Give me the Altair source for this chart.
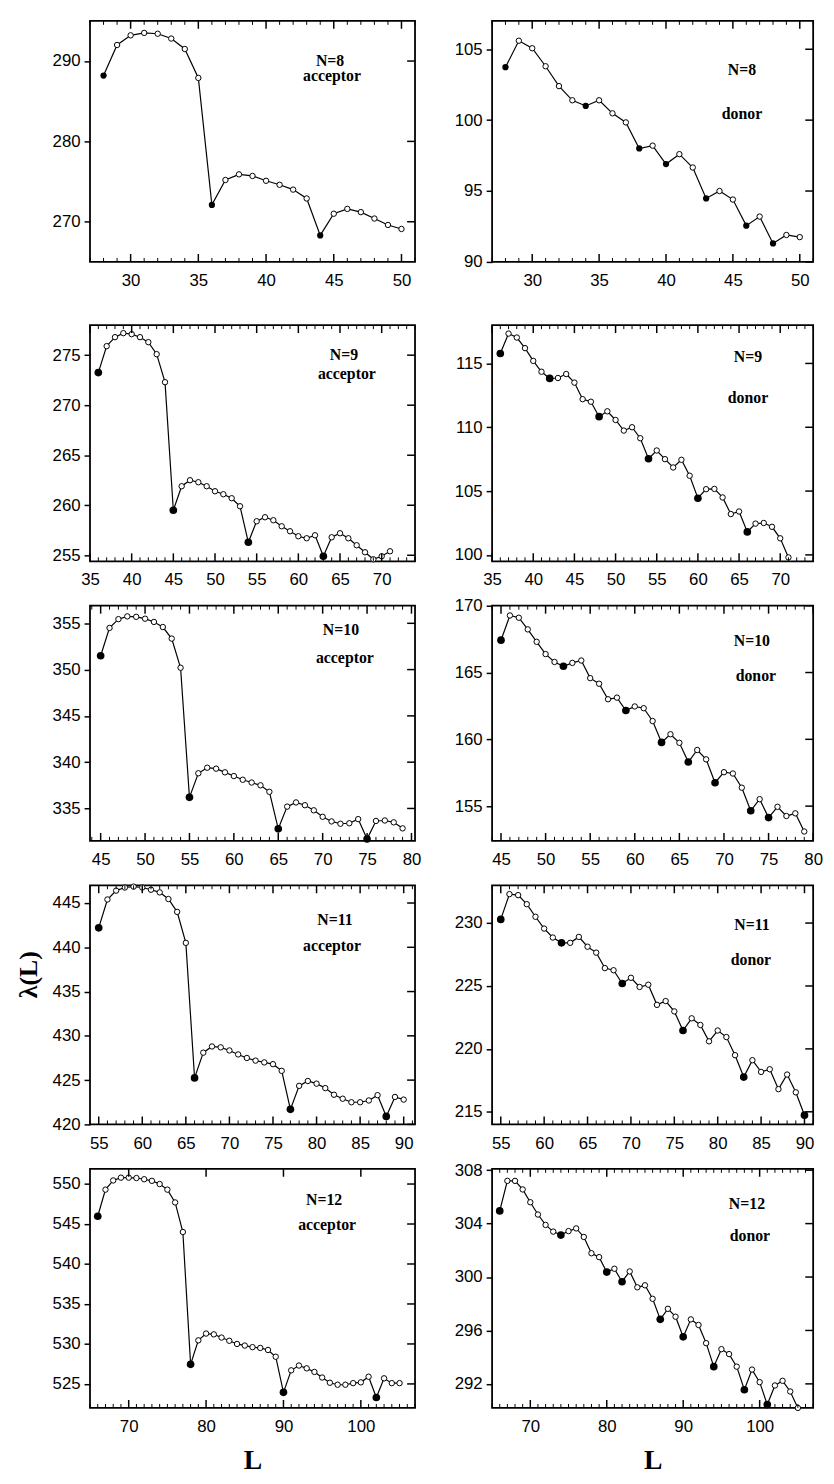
import math
import altair as alt
import pandas as pd

# ---------------- data ----------------
L8 = list(range(28, 51))
ACC8 = [288.2, 292.0, 293.2, 293.5, 293.4, 292.8, 291.5, 287.9, 272.1, 275.2, 275.9, 275.7,
        275.1, 274.6, 274.0, 272.9, 268.3, 271.0, 271.6, 271.2, 270.4, 269.6, 269.1]
ACC8_MIN = [28, 36, 44]
DON8 = [103.73, 105.6, 105.07, 103.8, 102.4, 101.4, 101.0, 101.4, 100.48, 99.84, 98.0, 98.2,
        96.9, 97.6, 96.66, 94.48, 95.0, 94.4, 92.56, 93.2, 91.3, 91.9, 91.75]
DON8_MIN = [28, 34, 38, 40, 43, 46, 48]

L9 = list(range(36, 72))
ACC9 = [273.26, 275.9, 276.8, 277.2, 277.1, 276.8, 276.3, 275.1, 272.3, 259.5, 261.9, 262.5,
        262.3, 261.9, 261.4, 261.1, 260.7, 259.9, 256.3, 258.4, 258.8, 258.5, 257.9, 257.4,
        256.9, 256.7, 257.0, 254.9, 256.8, 257.2, 256.7, 256.0, 255.3, 254.6, 254.9, 255.4]
ACC9_MIN = [36, 45, 54, 63]
DON9 = [115.78, 117.34, 117.03, 116.2, 115.2, 114.35, 113.83, 113.86, 114.17, 113.5, 112.2, 112.0,
        110.83, 111.25, 110.57, 109.74, 110.0, 109.14, 107.53, 108.18, 107.5, 106.85, 107.45, 106.2,
        104.44, 105.15, 105.17, 104.5, 103.2, 103.4, 101.8, 102.45, 102.5, 102.2, 101.3, 99.8]
DON9_MIN = [36, 42, 48, 54, 60, 66]

L10 = list(range(45, 80))
ACC10 = [351.5, 354.5, 355.45, 355.75, 355.7, 355.5, 355.15, 354.6, 353.35, 350.2, 336.2,
         338.8, 339.4, 339.3, 338.9, 338.5, 338.1, 337.8, 337.5, 336.8, 332.8,
         335.2, 335.65, 335.35, 334.8, 334.1, 333.6, 333.35, 333.4, 333.85, 331.7,
         333.65, 333.7, 333.5, 332.85]
ACC10_MIN = [45, 55, 65, 75]
DON10 = [167.42, 169.27, 169.1, 168.23, 167.3, 166.38, 165.79, 165.47, 165.72, 165.9, 164.58,
         164.16, 163.0, 163.12, 162.16, 162.46, 162.33, 161.37, 159.77, 160.38, 159.74, 158.3,
         159.2, 158.5, 156.75, 157.54, 157.44, 156.38, 154.65, 155.52, 154.14, 154.95, 154.26,
         154.46, 153.1]
DON10_MIN = [45, 52, 59, 63, 66, 69, 73, 75]

L11 = list(range(55, 91))
ACC11 = [442.2, 445.4, 446.4, 446.75, 446.85, 446.75, 446.5, 446.2, 445.45, 444.0, 440.5,
         425.25, 428.1, 428.8, 428.7, 428.35, 427.9, 427.5, 427.2, 427.0, 426.8, 426.05,
         421.7, 424.35, 424.9, 424.6, 424.1, 423.35, 422.9, 422.5, 422.5, 422.7, 423.3,
         420.9, 423.1, 422.8]
ACC11_MIN = [55, 66, 77, 88]
DON11 = [230.29, 232.3, 232.22, 231.5, 230.5, 229.56, 228.85, 228.43, 228.43, 228.9, 228.12,
         227.65, 226.42, 226.25, 225.2, 225.65, 224.92, 225.1, 223.5, 223.8, 222.98, 221.46,
         222.43, 221.9, 220.6, 221.46, 220.94, 219.5, 217.76, 219.1, 218.17, 218.38, 216.8,
         217.96, 216.55, 214.73]
DON11_MIN = [55, 62, 69, 76, 83, 90]

L12 = list(range(66, 106))
ACC12 = [545.97, 549.3, 550.45, 550.8, 550.8, 550.75, 550.6, 550.4, 550.0, 549.3, 547.7, 544.0,
         527.45, 530.45, 531.3, 531.2, 530.8, 530.4, 530.0, 529.8, 529.6, 529.5, 529.25, 528.4,
         523.95, 526.7, 527.3, 526.95, 526.5, 525.8, 525.15, 524.9, 524.9, 525.1, 525.2, 525.9,
         523.3, 525.7, 525.1, 525.1]
ACC12_MIN = [66, 78, 90, 102]
DON12 = [304.95, 307.2, 307.2, 306.56, 305.6, 304.68, 303.9, 303.4, 303.14, 303.44, 303.64,
         303.0, 301.78, 301.49, 300.37, 300.62, 299.65, 300.42, 299.23, 299.38, 298.37, 296.83,
         297.62, 297.03, 295.52, 296.83, 296.41, 295.05, 293.29, 294.6, 294.23, 293.29, 291.56,
         293.07, 292.13, 290.45, 291.88, 292.23, 291.43, 290.2]
DON12_MIN = [66, 74, 80, 82, 87, 90, 94, 98, 101]

# tick labels
XLAB = [[30, 35, 40, 45, 50], [35, 40, 45, 50, 55, 60, 65, 70], [45, 50, 55, 60, 65, 70, 75, 80],
        [55, 60, 65, 70, 75, 80, 85, 90], [70, 80, 90, 100]]
YLAB_ACC = [[270, 280, 290], [255, 260, 265, 270, 275], [335, 340, 345, 350, 355],
            [420, 425, 430, 435, 440, 445], [525, 530, 535, 540, 545, 550]]
YLAB_DON = [[90, 95, 100, 105], [100, 105, 110, 115], [155, 160, 165, 170],
            [215, 220, 225, 230], [292, 296, 300, 304, 308]]
N_TEXT = ["N=8", "N=9", "N=10", "N=11", "N=12"]

# ---------------- layout / style ----------------
SANS = "Liberation Sans"
SERIF = "Liberation Serif"
W_L, W_R = 329, 325
HEIGHTS = [244, 239, 238, 242, 242]
XDOM_L = [[27, 51], [35, 74], [43.8, 80.4], [54, 91.3], [65, 107]]
XDOM_R = [[27, 51], [35, 74], [44, 80], [54, 91], [65, 107]]
YDOM_L = [[265, 295], [254.4, 278], [331.5, 356.9], [420, 447], [522, 551.9]]
YDOM_R = [[90, 107], [99.5, 118], [152.4, 170], [214, 233], [290.2, 308.1]]
XMAJOR = [5, 5, 5, 5, 10]
TXT_L = [((243, 41), (245, 56)), ((257, 30), (260, 50)), ((254, 25), (258, 53)),
         ((248, 35), (245, 61)), ((237, 32), (240, 57))]
TXT_R = [((253, 50), (253, 94)), ((259, 32), (259, 74)), ((263, 36), (267, 71)),
         ((263, 40), (262, 76)), ((258, 36), (261, 68))]
YTITLE_X, YTITLE_Y = -62, 90


def panel(Ls, vals, mins, xdom, ydom, xlab, ylab, xmajor, w, h, ntext, kind, tpos,
          xtitle=False, ytitle=None, fill_size=55, top_minor=True):
    data = pd.DataFrame({"L": Ls, "v": vals, "m": [l in mins for l in Ls]})
    xs = alt.Scale(domain=xdom, nice=False, zero=False)
    ys = alt.Scale(domain=ydom, nice=False, zero=False)
    xkw = dict(values=xlab, ticks=False, tickSize=0, domain=False, grid=False,
               labelFont=SANS, labelFontSize=17, labelPadding=11, labelColor="black",
               labelFlush=False)
    if xtitle:
        xkw.update(titleFont=SERIF, titleFontSize=28, titleFontWeight="bold",
                   titlePadding=12, titleColor="black")
    ykw = dict(values=ylab, ticks=True, tickSize=6, tickWidth=1.5, tickColor="black",
               domain=False, grid=False, labelFont=SANS, labelFontSize=17, labelPadding=4,
               labelColor="black", labelFlush=False)
    if ytitle:
        ykw.update(titleFont=SERIF, titleFontSize=26, titleFontWeight="bold",
                   titleColor=ytitle, titleAngle=270, titleAlign="center",
                   titleBaseline="middle", titleX=YTITLE_X, titleY=YTITLE_Y)
    x_enc = alt.X("L:Q", scale=xs, axis=alt.Axis(**xkw), title="L" if xtitle else None)
    y_enc = alt.Y("v:Q", scale=ys, axis=alt.Axis(**ykw), title="λ(L)" if ytitle else None)

    base = alt.Chart(data)
    line = base.mark_line(color="black", strokeWidth=1.2).encode(x=x_enc, y=y_enc)
    opn = base.transform_filter("!datum.m").mark_circle(
        fill="white", stroke="black", strokeWidth=1, size=30, opacity=1).encode(x=x_enc, y=y_enc)
    fil = base.transform_filter("datum.m").mark_circle(
        color="black", size=fill_size, opacity=1).encode(x=x_enc, y=y_enc)

    lo, hi = math.ceil(xdom[0]), math.floor(xdom[1])
    minor = pd.DataFrame({"L": [t for t in range(lo, hi + 1) if t % xmajor != 0]})
    major = pd.DataFrame({"L": [t for t in range(lo, hi + 1) if t % xmajor == 0]})
    layers = [line, opn, fil]
    layers.append(alt.Chart(minor).mark_rule(color="black", strokeWidth=1).encode(
        x=x_enc, y=alt.value(h), y2=alt.value(h - 4)))
    layers.append(alt.Chart(major).mark_rule(color="black", strokeWidth=1.5).encode(
        x=x_enc, y=alt.value(h), y2=alt.value(h - 8)))
    if top_minor:
        layers.append(alt.Chart(minor).mark_rule(color="black", strokeWidth=1).encode(
            x=x_enc, y=alt.value(0), y2=alt.value(4)))
    layers.append(alt.Chart(major).mark_rule(color="black", strokeWidth=1.5).encode(
        x=x_enc, y=alt.value(0), y2=alt.value(8)))
    ytk = pd.DataFrame({"v": ylab})
    layers.append(alt.Chart(ytk).mark_rule(color="black", strokeWidth=1.5).encode(
        y=y_enc, x=alt.value(w), x2=alt.value(w - 8)))

    for i, s in enumerate([ntext, kind]):
        layers.append(alt.Chart(pd.DataFrame({"t": [s]})).mark_text(
            font=SERIF, fontSize=16, fontWeight="bold", color="black", align="center",
            baseline="middle").encode(x=alt.value(tpos[i][0]), y=alt.value(tpos[i][1]), text="t:N"))
    return alt.layer(*layers).properties(width=w, height=h)


rows = [
    (L8, ACC8, ACC8_MIN, DON8, DON8_MIN),
    (L9, ACC9, ACC9_MIN, DON9, DON9_MIN),
    (L10, ACC10, ACC10_MIN, DON10, DON10_MIN),
    (L11, ACC11, ACC11_MIN, DON11, DON11_MIN),
    (L12, ACC12, ACC12_MIN, DON12, DON12_MIN),
]

panels = []
for i, (Ls, acc, accm, don, donm) in enumerate(rows):
    last = i == 4
    # row 1 carries an invisible copy of the y title so both blocks share the same left bound
    yt = "black" if i == 3 else ("white" if i == 0 else None)
    panels.append(panel(Ls, acc, accm, XDOM_L[i], YDOM_L[i], XLAB[i], YLAB_ACC[i], XMAJOR[i],
                        W_L, HEIGHTS[i], N_TEXT[i], "acceptor", TXT_L[i], xtitle=last,
                        ytitle=yt, fill_size=40 if i == 0 else 60, top_minor=not last))
    panels.append(panel(Ls, don, donm, XDOM_R[i], YDOM_R[i], XLAB[i], YLAB_DON[i], XMAJOR[i],
                        W_R, HEIGHTS[i], N_TEXT[i], "donor", TXT_R[i], xtitle=last,
                        fill_size=40 if i == 0 else 60))

row1 = alt.hconcat(panels[0], panels[1], spacing=78, bounds="flush")
rest = alt.concat(*panels[2:], columns=2, spacing={"row": 45, "column": 78}, bounds="flush")

chart = alt.vconcat(row1, rest, spacing=34).properties(
    padding={"left": 7, "top": 2, "right": 2, "bottom": 2}, background="white"
).configure_view(stroke="black", strokeWidth=1.8)

chart.save("out.html", embed_options={"renderer": "svg", "actions": False})
